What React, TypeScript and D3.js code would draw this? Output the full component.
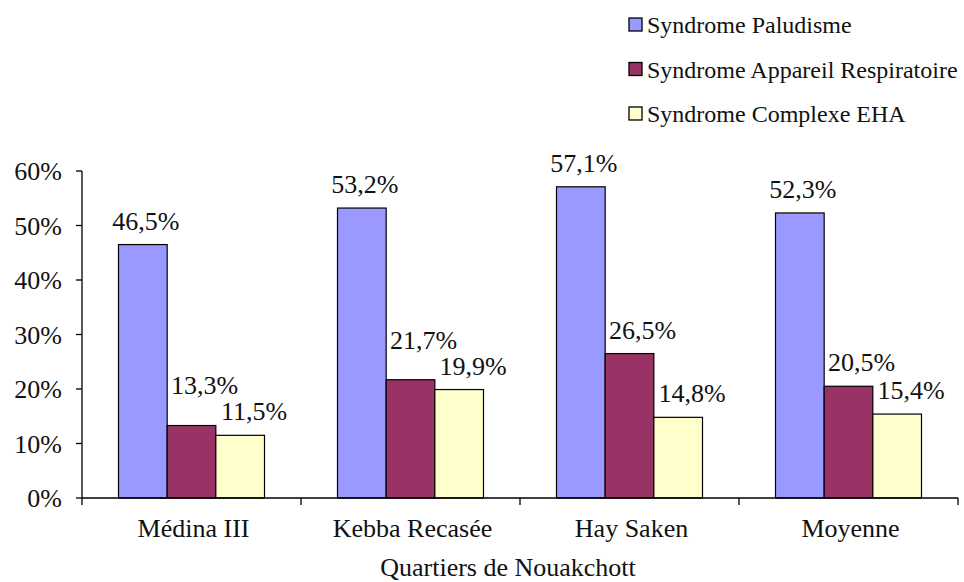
import React from 'react';
import * as d3 from 'd3';

const quartiers = ['Médina III', 'Kebba Recasée', 'Hay Saken', 'Moyenne'];
const seriesNames = ['Syndrome Paludisme', 'Syndrome Appareil Respiratoire', 'Syndrome Complexe EHA'];
const paludisme = [46.5, 53.2, 57.1, 52.3];
const respiratoire = [13.3, 21.7, 26.5, 20.5];
const complexeEHA = [11.5, 19.9, 14.8, 15.4];
const yTicks = [0, 10, 20, 30, 40, 50, 60];
const colors = ['#9999FF', '#993366', '#FFFFCC'];

const FONT = "'Times New Roman'";
const txtStyle: React.CSSProperties = { fontFamily: "'Times New Roman', 'Liberation Serif', Tinos, serif" };

const width = 964;
const height = 582;
const margin = { top: 171, right: 6, bottom: 84, left: 82 };

export default function App() {
  React.useEffect(() => {
    document.body.style.margin = '0';
  }, []);

  const x0 = d3.scaleBand<string>()
    .domain(quartiers)
    .range([margin.left, width - margin.right])
    .paddingInner(0)
    .paddingOuter(0);
  const bw = x0.bandwidth();
  const barW = bw / 4.5; // gap width 150%
  const x1 = d3.scaleBand<number>().domain([0, 1, 2]).range([0, barW * 3]);
  const y = d3.scaleLinear().domain([0, 60]).range([height - margin.bottom, margin.top]);

  const allSeries = [paludisme, respiratoire, complexeEHA];
  const labelShift = [3, 13, 14];
  const barX = (i: number, si: number) =>
    (x0(quartiers[i]) as number) + (bw - barW * 3) / 2 + (x1(si) as number);

  // label baselines: above the bar, pushed up if colliding with the neighbour on the right
  const labelY = allSeries.map((vals) => vals.map((d) => y(d) - 15));
  quartiers.forEach((_q, i) => {
    for (let si = allSeries.length - 2; si >= 0; si--) {
      const right = labelY[si + 1][i];
      if (labelY[si][i] > right - 26 && labelY[si][i] < right + 26) {
        labelY[si][i] = Math.min(labelY[si][i], right - 26);
      }
    }
  });

  const bounds = quartiers.map((q) => x0(q) as number).concat([width - margin.right]);
  const fmt = (d: number) => d.toFixed(1).replace('.', ',') + '%';

  return (
    <svg width={width} height={height} style={{ display: 'block' }}>
      <rect width={width} height={height} fill="#ffffff" />

      {allSeries.map((vals, si) => (
        <g key={`s${si}`}>
          {vals.map((d, i) => (
            <rect
              key={i}
              x={barX(i, si)}
              y={y(d)}
              width={x1.bandwidth()}
              height={y(0) - y(d)}
              fill={colors[si]}
              stroke="#000"
              strokeWidth={1.2}
            />
          ))}
        </g>
      ))}

      {allSeries.map((vals, si) => (
        <g key={`l${si}`}>
          {vals.map((d, i) => (
            <text
              key={i}
              x={barX(i, si) + barW / 2 + labelShift[si]}
              y={labelY[si][i]}
              textAnchor="middle"
              fontFamily={FONT}
              style={txtStyle}
              fontSize={26}
              fill="#111"
            >
              {fmt(d)}
            </text>
          ))}
        </g>
      ))}

      {/* y axis */}
      <line x1={margin.left} x2={margin.left} y1={y(60)} y2={y(0)} stroke="#000" strokeWidth={1.3} />
      {yTicks.map((t) => (
        <g key={t}>
          <line x1={margin.left - 6} x2={margin.left} y1={y(t)} y2={y(t)} stroke="#000" strokeWidth={1.3} />
          <text
            x={margin.left - 20}
            y={y(t)}
            dy="0.35em"
            textAnchor="end"
            fontFamily={FONT}
            style={txtStyle}
            fontSize={26}
            fill="#111"
          >
            {`${t}%`}
          </text>
        </g>
      ))}

      {/* x axis */}
      <line x1={margin.left} x2={width - margin.right} y1={y(0)} y2={y(0)} stroke="#000" strokeWidth={1.3} />
      {bounds.map((bx, i) => (
        <line key={i} x1={bx} x2={bx} y1={y(0)} y2={y(0) + 7} stroke="#000" strokeWidth={1.3} />
      ))}
      {quartiers.map((q) => (
        <text
          key={q}
          x={(x0(q) as number) + bw / 2 + 2}
          y={y(0) + 39}
          textAnchor="middle"
          fontFamily={FONT}
          style={txtStyle}
          fontSize={26}
          fill="#111"
        >
          {q}
        </text>
      ))}
      <text x={508} y={576} textAnchor="middle" fontFamily={FONT} style={txtStyle} fontSize={26} fill="#111">
        Quartiers de Nouakchott
      </text>

      {/* legend */}
      <g transform="translate(629,25)">
        {seriesNames.map((name, i) => (
          <g key={name} transform={`translate(0,${i * 44.5})`}>
            <rect x={0} y={-7} width={13} height={13} fill={colors[i]} stroke="#000" strokeWidth={1.3} />
            <text x={18} y={0} dy="0.35em" fontFamily={FONT} style={txtStyle} fontSize={24} fill="#111">
              {name}
            </text>
          </g>
        ))}
      </g>
    </svg>
  );
}
